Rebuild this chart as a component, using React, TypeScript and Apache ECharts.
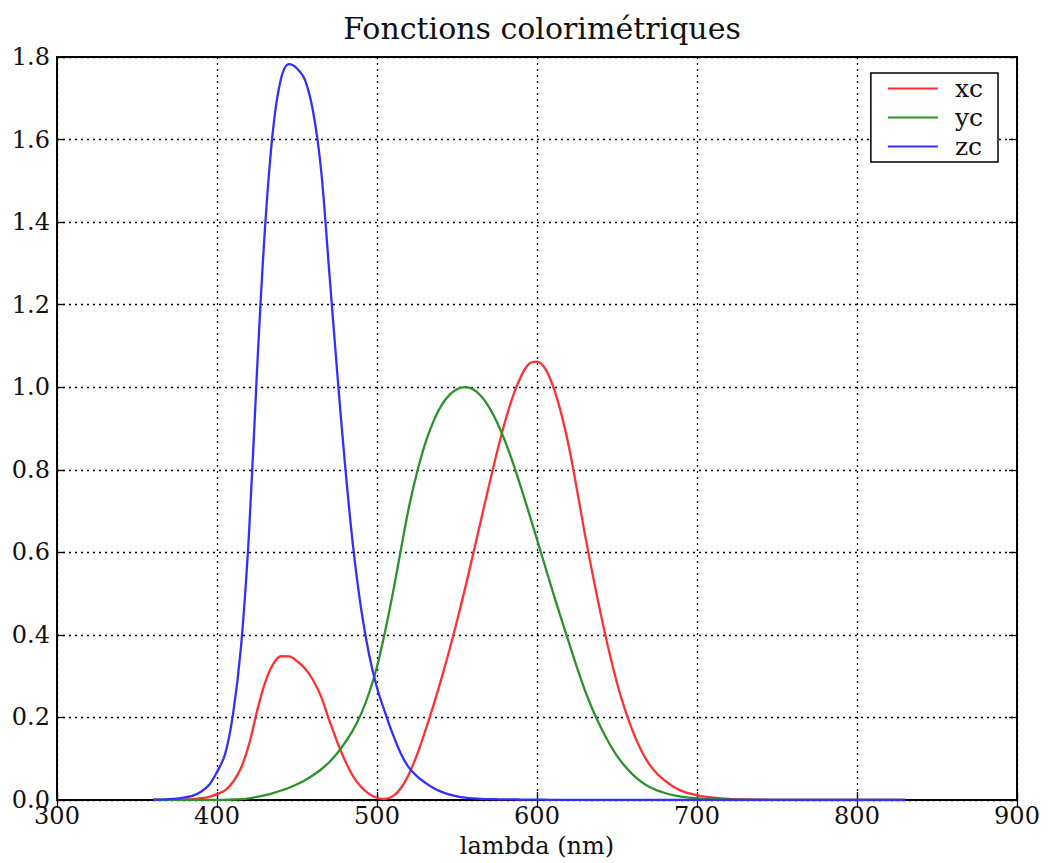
import React, { useEffect, useRef } from "react";
import * as echarts from "echarts";

const wavelengths = [
  360, 365, 370, 375, 380, 385, 390, 395, 400, 405, 410, 415, 420, 425, 430, 435, 440, 445, 450, 455,
  460, 465, 470, 475, 480, 485, 490, 495, 500, 505, 510, 515, 520, 525, 530, 535, 540, 545, 550, 555,
  560, 565, 570, 575, 580, 585, 590, 595, 600, 605, 610, 615, 620, 625, 630, 635, 640, 645, 650, 655,
  660, 665, 670, 675, 680, 685, 690, 695, 700, 705, 710, 715, 720, 725, 730, 735, 740, 745, 750, 755,
  760, 765, 770, 775, 780, 785, 790, 795, 800, 805, 810, 815, 820, 825, 830,
];

const xc = [
  0.00013, 0.000232, 0.000415, 0.000742, 0.001368, 0.002236, 0.004243, 0.00765, 0.01431, 0.02319,
  0.04351, 0.07763, 0.13438, 0.21477, 0.2839, 0.3285, 0.34828, 0.34806, 0.3362, 0.3187,
  0.2908, 0.2511, 0.19536, 0.1421, 0.09564, 0.05795, 0.03201, 0.0147, 0.0049, 0.0024,
  0.0093, 0.0291, 0.06327, 0.1096, 0.1655, 0.22575, 0.2904, 0.3597, 0.43345, 0.51205,
  0.5945, 0.6784, 0.7621, 0.8425, 0.9163, 0.9786, 1.0263, 1.0567, 1.0622, 1.0456,
  1.0026, 0.9384, 0.85445, 0.7514, 0.6424, 0.5419, 0.4479, 0.3608, 0.2835, 0.2187,
  0.1649, 0.1212, 0.0874, 0.0636, 0.04677, 0.0329, 0.0227, 0.01584, 0.011359, 0.008111,
  0.00579, 0.004109, 0.002899, 0.002049, 0.00144, 0.001, 0.00069, 0.000476, 0.000332, 0.000235,
  0.000166, 0.000117, 0.000083, 0.000059, 0.000042, 0.000029, 0.000021, 0.000015, 0.00001, 0.000007,
  0.000005, 0.000004, 0.000003, 0.000002, 0.000001,
];

const yc = [
  0.000004, 0.000007, 0.000012, 0.000022, 0.000039, 0.000064, 0.00012, 0.000217, 0.000396, 0.00064,
  0.00121, 0.00218, 0.004, 0.0073, 0.0116, 0.01684, 0.023, 0.0298, 0.038, 0.048,
  0.06, 0.0739, 0.09098, 0.1126, 0.13902, 0.1693, 0.20802, 0.2586, 0.323, 0.4073,
  0.503, 0.6082, 0.71, 0.7932, 0.862, 0.91485, 0.954, 0.9803, 0.99495, 1.0,
  0.995, 0.9786, 0.952, 0.9154, 0.87, 0.8163, 0.757, 0.6949, 0.631, 0.5668,
  0.503, 0.4412, 0.381, 0.321, 0.265, 0.217, 0.175, 0.1382, 0.107, 0.0816,
  0.061, 0.04458, 0.032, 0.0232, 0.017, 0.01192, 0.00821, 0.005723, 0.004102, 0.002929,
  0.002091, 0.001484, 0.001047, 0.00074, 0.00052, 0.000361, 0.000249, 0.000172, 0.00012, 0.000085,
  0.00006, 0.000042, 0.00003, 0.000021, 0.000015, 0.000011, 0.000007, 0.000005, 0.000004, 0.000003,
  0.000002, 0.000001, 0.000001, 0.000001, 0.0,
];

const zc = [
  0.000606, 0.001086, 0.001946, 0.003486, 0.00645, 0.01055, 0.02005, 0.03621, 0.06785, 0.1102,
  0.2074, 0.3713, 0.6456, 1.03905, 1.3856, 1.62296, 1.74706, 1.7826, 1.77211, 1.7441,
  1.6692, 1.5281, 1.28764, 1.0419, 0.81295, 0.6162, 0.46518, 0.3533, 0.272, 0.2123,
  0.1582, 0.1117, 0.07825, 0.05725, 0.04216, 0.02984, 0.0203, 0.0134, 0.00875, 0.00575,
  0.0039, 0.00275, 0.0021, 0.0018, 0.00165, 0.0014, 0.0011, 0.001, 0.0008, 0.0006,
  0.00034, 0.00024, 0.00019, 0.0001, 0.00005, 0.00003, 0.00002, 0.00001, 0, 0,
  0, 0, 0, 0, 0, 0, 0, 0, 0, 0,
  0, 0, 0, 0, 0, 0, 0, 0, 0, 0,
  0, 0, 0, 0, 0, 0, 0, 0, 0, 0,
  0, 0, 0, 0, 0,
];

const seriesNames = ["xc", "yc", "zc"];
const seriesColors = ["#ff3030", "#2a922a", "#3030ff"];
const seriesValues = [xc, yc, zc];

const FONT = "DejaVu Serif";

export default function App() {
  const ref = useRef<HTMLDivElement>(null);
  useEffect(() => {
    if (!ref.current) return;
    const chart = echarts.init(ref.current, null, { renderer: "svg" });
    const gridLine = { show: true, lineStyle: { color: "#000", type: [2, 4] as any, width: 1.3 } };
    const tick = { show: true, inside: true, length: 8, lineStyle: { color: "#000", width: 1.3 } };
    chart.setOption({
      animation: false,
      backgroundColor: "#fff",
      title: {
        text: "Fonctions colorimétriques",
        left: 537,
        textAlign: "center",
        top: 8,
        textStyle: { fontFamily: FONT, fontSize: 30, fontWeight: "normal", color: "#111" },
      },
      legend: {
        data: seriesNames,
        orient: "vertical",
        right: 50,
        top: 73,
        icon: "rect",
        itemWidth: 50,
        itemHeight: 2,
        itemGap: 4,
        padding: [3, 15, 3, 17],
        borderColor: "#000",
        borderWidth: 1.5,
        borderRadius: 0,
        backgroundColor: "#fff",
        textStyle: { fontFamily: FONT, fontSize: 25, color: "#111", lineHeight: 22, padding: [0, 0, 0, 12] },
      },
      grid: {
        left: 57,
        top: 57,
        right: 31,
        bottom: 60,
        show: true,
        borderColor: "#000",
        borderWidth: 2,
        backgroundColor: "transparent",
      },
      xAxis: [
        {
          type: "value",
          min: 300,
          max: 900,
          interval: 100,
          name: "lambda (nm)",
          nameLocation: "middle",
          nameGap: 34,
          nameTextStyle: { fontFamily: FONT, fontSize: 24, color: "#111" },
          axisLine: { show: true, lineStyle: { color: "#000", width: 2 } },
          axisTick: tick,
          axisLabel: { fontFamily: FONT, fontSize: 24, color: "#111", margin: 4 },
          splitLine: gridLine,
        },
        {
          type: "value",
          position: "top",
          min: 300,
          max: 900,
          interval: 100,
          axisLine: { show: false },
          axisTick: tick,
          axisLabel: { show: false },
          splitLine: { show: false },
        },
      ],
      yAxis: [
        {
          type: "value",
          min: 0,
          max: 1.8,
          interval: 0.2,
          axisLine: { show: true, lineStyle: { color: "#000", width: 2 } },
          axisTick: tick,
          axisLabel: {
            fontFamily: FONT,
            fontSize: 24,
            color: "#111",
            margin: 7,
            formatter: (v: number) => v.toFixed(1),
          },
          splitLine: gridLine,
        },
        {
          type: "value",
          position: "right",
          min: 0,
          max: 1.8,
          interval: 0.2,
          axisLine: { show: false },
          axisTick: tick,
          axisLabel: { show: false },
          splitLine: { show: false },
        },
      ],
      series: seriesNames.map((name, i) => ({
        name,
        type: "line",
        xAxisIndex: 0,
        yAxisIndex: 0,
        showSymbol: false,
        symbol: "none",
        smooth: 0.35,
        color: seriesColors[i],
        lineStyle: { color: seriesColors[i], width: 2.3 },
        data: wavelengths.map((w, j) => [w, seriesValues[i][j]]),
        z: 3 + i,
      })),
    });
    return () => chart.dispose();
  }, []);
  return (
    <div
      ref={ref}
      style={{ position: "fixed", left: 0, top: 0, width: 1048, height: 863, background: "#fff" }}
    />
  );
}
